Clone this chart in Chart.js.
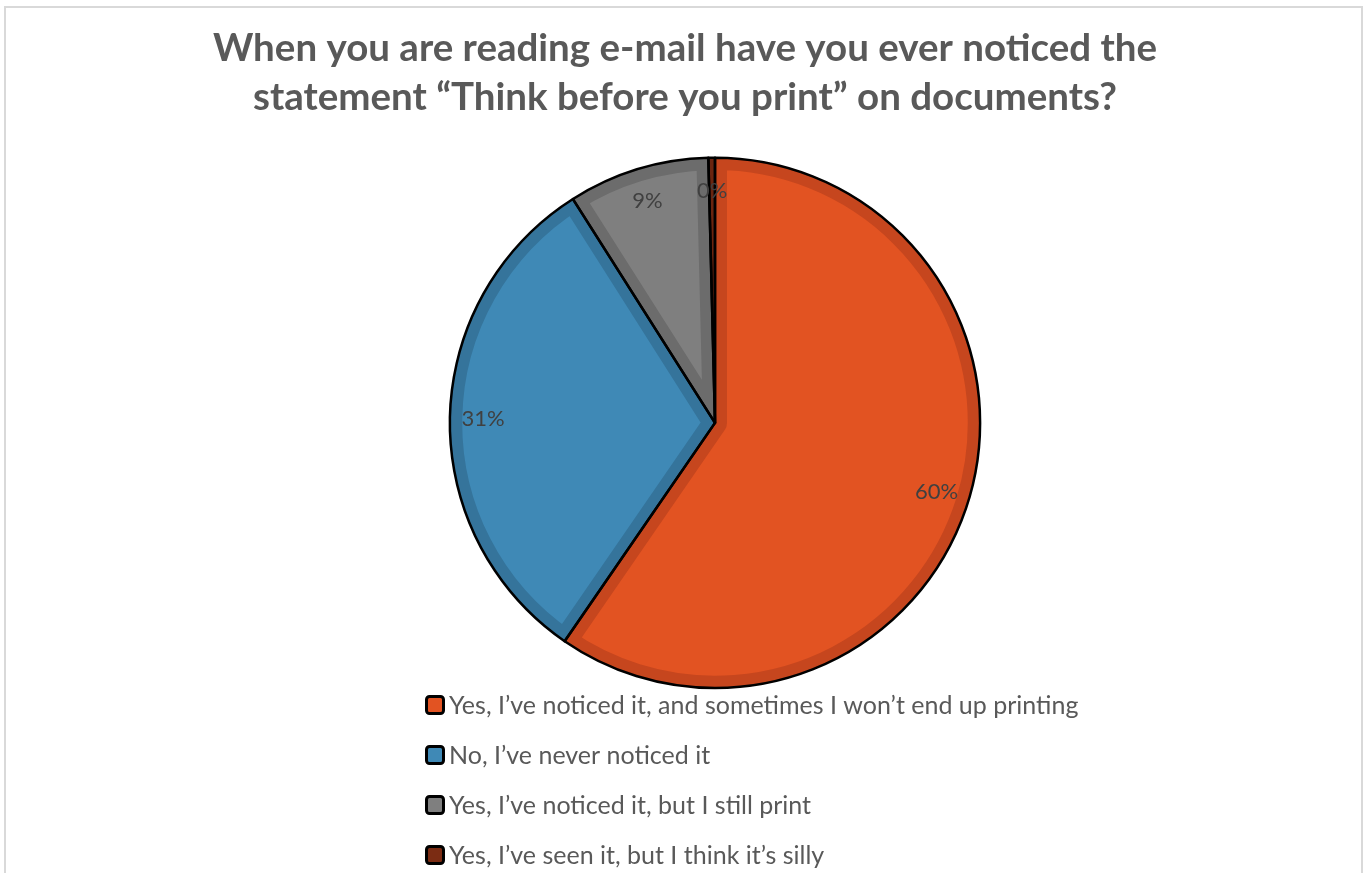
<!DOCTYPE html>
<html>
<head>
<meta charset="utf-8">
<script src="https://cdn.jsdelivr.net/npm/chart.js"></script>
<style>
  html, body { margin: 0; padding: 0; background: #fff; }
  #frame { position: absolute; left: 4px; top: 6px; width: 1355px; height: 880px; border: 2px solid #d9d9d9; }
  #myChart { position: absolute; left: 0; top: 0; }
</style>
</head>
<body>
<div id="frame"></div>
<canvas id="myChart" width="1364" height="873"></canvas>
<script>
const titleLines = [
  'When you are reading e-mail have you ever noticed the',
  'statement \u201cThink before you print\u201d on documents?'
];
const labels = [
  'Yes, I\u2019ve noticed it, and sometimes I won\u2019t end up printing',
  'No, I\u2019ve never noticed it',
  'Yes, I\u2019ve noticed it, but I still print',
  'Yes, I\u2019ve seen it, but I think it\u2019s silly'
];
const values = [59.6, 31.4, 8.6, 0.4];
const fillColors = ['#e25322', '#3f89b6', '#7f7f7f', '#7b2c13'];
const edgeColors = ['#c6461e', '#35749b', '#6c6c6c', '#6a2510'];

// black outline around each slice, then the percent labels
const outline = {
  id: 'outline',
  afterDatasetsDraw(chart) {
    const ctx = chart.ctx;
    const meta = chart.getDatasetMeta(0);
    ctx.save();
    ctx.strokeStyle = '#000';
    ctx.lineWidth = 2.5;
    ctx.lineJoin = 'round';
    meta.data.forEach(arc => {
      const p = arc.getProps(['x', 'y', 'startAngle', 'endAngle', 'outerRadius']);
      ctx.beginPath();
      ctx.moveTo(p.x, p.y);
      ctx.arc(p.x, p.y, p.outerRadius, p.startAngle, p.endAngle);
      ctx.closePath();
      ctx.stroke();
    });
    ctx.font = '22px Lato';
    ctx.fillStyle = '#404040';
    ctx.textAlign = 'center';
    ctx.textBaseline = 'middle';
    meta.data.forEach((arc, i) => {
      const p = arc.getProps(['x', 'y', 'startAngle', 'endAngle', 'outerRadius']);
      const mid = (p.startAngle + p.endAngle) / 2;
      const r = p.outerRadius * 0.875;
      ctx.fillText(Math.round(values[i]) + '%', p.x + Math.cos(mid) * r, p.y + Math.sin(mid) * r);
    });
    ctx.restore();
  }
};

// shift the pie a little right of the title centre
const shiftPie = {
  id: 'shiftPie',
  afterLayout(chart) {
    chart.chartArea.left += 30;
    chart.chartArea.right += 30;
  }
};

// one legend entry per line, left aligned
const legendList = {
  id: 'legendList',
  afterDraw(chart) {
    const ctx = chart.ctx;
    const x0 = 425, y0 = 705, step = 50, box = 17;
    ctx.save();
    ctx.font = '25px Lato';
    ctx.textAlign = 'left';
    ctx.textBaseline = 'middle';
    labels.forEach((t, i) => {
      const y = y0 + i * step;
      ctx.beginPath();
      ctx.roundRect(x0 + 1.5, y - box / 2, box, box, 3);
      ctx.fillStyle = fillColors[i];
      ctx.fill();
      ctx.lineWidth = 3;
      ctx.strokeStyle = '#000';
      ctx.stroke();
      ctx.fillStyle = '#595959';
      ctx.fillText(t, x0 + 24, y + 1);
    });
    ctx.restore();
  }
};

new Chart(document.getElementById('myChart'), {
  type: 'pie',
  data: {
    labels: labels,
    datasets: [{
      data: values,
      backgroundColor: fillColors,
      borderColor: edgeColors,
      borderWidth: 12,
      borderAlign: 'inner'
    }]
  },
  options: {
    responsive: false,
    animation: false,
    layout: { padding: { left: 33, right: 27, top: 0, bottom: 185 } },
    plugins: {
      legend: { display: false },
      tooltip: { enabled: false },
      title: {
        display: true,
        text: titleLines,
        color: '#595959',
        font: { family: 'Lato', size: 38.5, weight: 'bold', lineHeight: 1.27 },
        padding: { top: 24, bottom: 36 }
      }
    }
  },
  plugins: [shiftPie, outline, legendList]
});
</script>
</body>
</html>
